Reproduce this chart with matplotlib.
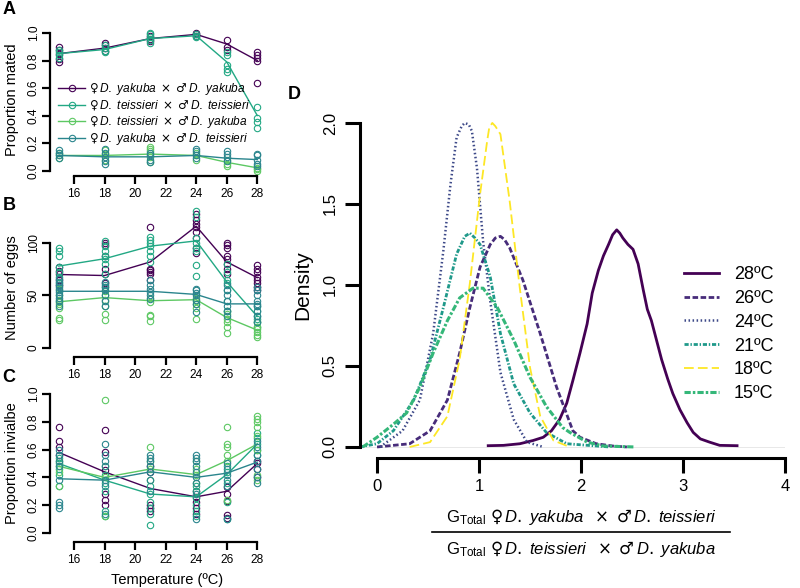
import matplotlib.pyplot as plt
from matplotlib.lines import Line2D

plt.rcParams['font.family'] = ['Liberation Sans', 'DejaVu Sans']
plt.rcParams['mathtext.fontset'] = 'custom'
plt.rcParams['mathtext.rm'] = 'DejaVu Sans'
plt.rcParams['mathtext.it'] = 'Liberation Sans:italic'
plt.rcParams['mathtext.sf'] = 'Liberation Sans'
plt.rcParams['lines.scale_dashes'] = False

# ---- data ----
temps = [15, 18, 21, 24, 26, 28]
cross_colors = ['#440154', '#22A884', '#5DC863', '#2A858D']
cross_labels = [
    r'$\mathrm{♀}\,\mathit{D.\ yakuba}\ \times\ \mathrm{♂}\,\mathit{D.\ yakuba}$',
    r'$\mathrm{♀}\,\mathit{D.\ teissieri}\ \times\ \mathrm{♂}\,\mathit{D.\ teissieri}$',
    r'$\mathrm{♀}\,\mathit{D.\ teissieri}\ \times\ \mathrm{♂}\,\mathit{D.\ yakuba}$',
    r'$\mathrm{♀}\,\mathit{D.\ yakuba}\ \times\ \mathrm{♂}\,\mathit{D.\ teissieri}$',
]

# A: proportion mated
mated_yy = [[0.79, 0.81, 0.85, 0.88, 0.90], [0.87, 0.89, 0.91, 0.93], [0.94, 0.96, 0.98],
            [0.98, 0.99, 1.00], [0.88, 0.90, 0.95], [0.64, 0.80, 0.82, 0.84, 0.86]]
mated_tt = [[0.82, 0.84, 0.86, 0.88], [0.86, 0.87, 0.89, 0.91], [0.93, 0.95, 0.97, 0.99, 1.00],
            [0.97, 0.98, 0.99], [0.72, 0.74, 0.77, 0.84, 0.86], [0.31, 0.35, 0.38, 0.46]]
mated_ty = [[0.09, 0.11, 0.13], [0.08, 0.12, 0.15], [0.06, 0.10, 0.14, 0.16, 0.17],
            [0.08, 0.11, 0.13], [0.03, 0.05, 0.08], [0.00, 0.01, 0.02]]
mated_yt = [[0.09, 0.11, 0.13, 0.15], [0.05, 0.07, 0.10, 0.13, 0.16], [0.06, 0.08, 0.11, 0.13],
            [0.09, 0.11, 0.14, 0.16], [0.07, 0.10, 0.12, 0.14], [0.03, 0.05, 0.08, 0.11, 0.12]]
mated_yy_mean = [0.85, 0.89, 0.96, 0.99, 0.92, 0.80]
mated_tt_mean = [0.85, 0.88, 0.96, 0.98, 0.79, 0.40]
mated_ty_mean = [0.11, 0.11, 0.12, 0.11, 0.06, 0.02]
mated_yt_mean = [0.11, 0.10, 0.10, 0.11, 0.09, 0.08]

# B: number of eggs
eggs_yy = [[60, 65, 70, 73, 77], [62, 70, 75, 88, 98, 100], [65, 70, 72, 74, 75, 115],
           [90, 95, 105, 110, 115, 118, 122, 128], [70, 75, 80, 85, 88, 95, 98, 100],
           [55, 58, 62, 65, 68, 72, 75, 79]]
eggs_tt = [[62, 68, 72, 77, 88, 92, 95], [70, 80, 85, 88, 92, 97, 102], [82, 88, 92, 97, 100, 103, 106],
           [69, 79, 92, 95, 100, 105, 125, 130], [35, 45, 55, 62, 65, 72, 80], [20, 25, 28, 30, 35, 40]]
eggs_ty = [[27, 29, 38, 42, 44, 46, 50, 56], [27, 32, 40, 46, 50, 54, 58], [26, 30, 31, 44, 48],
           [28, 38, 42, 45, 48], [14, 20, 25, 28, 32, 35], [10, 12, 15, 18, 20, 25]]
eggs_yt = [[40, 45, 48, 50, 53, 55, 58, 60, 63, 66], [40, 45, 50, 55, 58, 60, 63], [47, 50, 53, 56, 60, 65],
           [34, 42, 46, 50, 52, 55, 56], [30, 35, 40, 45, 50, 55, 60], [25, 30, 35, 40, 42, 45, 50, 55, 58]]
eggs_yy_mean = [70, 69, 82, 116, 82, 67]
eggs_tt_mean = [78, 85, 97, 102, 63, 30]
eggs_ty_mean = [44, 48, 45, 46, 29, 17]
eggs_yt_mean = [54, 54, 54, 51, 42, 42]

# C: proportion inviable
inv_yy = [[0.56, 0.62, 0.66, 0.76], [0.20, 0.24, 0.28, 0.45, 0.58, 0.74], [0.16, 0.18, 0.20, 0.44, 0.48],
          [0.14, 0.18, 0.22, 0.26, 0.30], [0.11, 0.13, 0.23, 0.28, 0.33], [0.40, 0.46, 0.50, 0.52]]
inv_tt = [[0.34, 0.42, 0.46, 0.50, 0.54], [0.12, 0.16, 0.30, 0.36, 0.42], [0.06, 0.14, 0.18, 0.22, 0.28, 0.34],
          [0.12, 0.16, 0.20, 0.25, 0.30, 0.34], [0.10, 0.22, 0.36, 0.44, 0.48], [0.56, 0.60, 0.64, 0.68, 0.72]]
inv_ty = [[0.34, 0.44, 0.48, 0.52], [0.12, 0.40, 0.48, 0.96], [0.38, 0.46, 0.52, 0.62],
          [0.36, 0.42, 0.46, 0.52], [0.24, 0.52, 0.56, 0.62, 0.64, 0.76],
          [0.38, 0.42, 0.60, 0.70, 0.76, 0.80, 0.82, 0.84]]
inv_yt = [[0.18, 0.20, 0.22, 0.38, 0.48, 0.52, 0.56, 0.60], [0.14, 0.34, 0.38, 0.48, 0.52, 0.56, 0.64],
          [0.30, 0.38, 0.44, 0.48, 0.52, 0.54, 0.56], [0.10, 0.28, 0.36, 0.40, 0.44, 0.48, 0.52, 0.54, 0.56],
          [0.10, 0.34, 0.38, 0.42, 0.46, 0.50], [0.36, 0.40, 0.46, 0.52, 0.56, 0.62, 0.66]]
inv_yy_mean = [0.58, 0.44, 0.32, 0.26, 0.30, 0.50]
inv_tt_mean = [0.50, 0.38, 0.28, 0.26, 0.42, 0.64]
inv_ty_mean = [0.48, 0.40, 0.46, 0.42, 0.52, 0.64]
inv_yt_mean = [0.39, 0.38, 0.44, 0.40, 0.43, 0.51]

# D: density of G ratio
d28_x = [1.09, 1.24, 1.40, 1.53, 1.63, 1.71, 1.79, 1.86, 1.92, 1.99, 2.06, 2.11, 2.17, 2.22, 2.27, 2.31,
         2.35, 2.38, 2.41, 2.46, 2.51, 2.56, 2.61, 2.65, 2.69, 2.74, 2.79, 2.85, 2.90, 2.97, 3.04, 3.10,
         3.17, 3.26, 3.36, 3.53]
d28_y = [0.008, 0.01, 0.02, 0.04, 0.06, 0.10, 0.17, 0.27, 0.41, 0.58, 0.76, 0.95, 1.09, 1.18, 1.25, 1.31,
         1.34, 1.32, 1.29, 1.25, 1.22, 1.13, 0.97, 0.85, 0.78, 0.66, 0.54, 0.42, 0.33, 0.23, 0.15, 0.09,
         0.05, 0.03, 0.01, 0.008]
d26_x = [0.00, 0.32, 0.52, 0.69, 0.81, 0.91, 1.01, 1.11, 1.16, 1.21, 1.25, 1.30, 1.43, 1.60, 1.76, 1.92,
         1.99, 2.15, 2.31, 2.45]
d26_y = [0.00, 0.02, 0.10, 0.29, 0.58, 0.86, 1.11, 1.25, 1.29, 1.30, 1.28, 1.23, 1.03, 0.70, 0.37, 0.10,
         0.06, 0.02, 0.006, 0.0]
d24_x = [0.03, 0.25, 0.42, 0.55, 0.65, 0.72, 0.78, 0.83, 0.86, 0.90, 0.93, 0.98, 1.04, 1.11, 1.21, 1.34,
         1.47, 1.63]
d24_y = [0.00, 0.10, 0.29, 0.70, 1.21, 1.62, 1.91, 1.98, 2.00, 1.99, 1.95, 1.72, 1.27, 0.90, 0.46, 0.17,
         0.03, 0.0]
d21_x = [-0.17, 0.00, 0.16, 0.36, 0.52, 0.65, 0.78, 0.86, 0.91, 0.96, 1.01, 1.11, 1.21, 1.34, 1.50, 1.66,
         1.86, 2.28]
d21_y = [0.00, 0.02, 0.10, 0.29, 0.54, 0.86, 1.19, 1.30, 1.32, 1.29, 1.25, 1.05, 0.70, 0.39, 0.21, 0.09,
         0.02, 0.0]
d18_x = [0.32, 0.52, 0.69, 0.81, 0.91, 1.01, 1.08, 1.10, 1.13, 1.16, 1.21, 1.30, 1.40, 1.50, 1.60, 1.73, 1.89]
d18_y = [0.00, 0.03, 0.19, 0.54, 1.01, 1.56, 1.89, 1.97, 2.00, 1.98, 1.93, 1.52, 0.98, 0.49, 0.19, 0.04, 0.0]
d15_x = [-0.14, 0.00, 0.16, 0.29, 0.42, 0.55, 0.69, 0.81, 0.94, 1.04, 1.18, 1.34, 1.50, 1.66, 1.82, 1.89,
         2.06, 2.22, 2.53]
d15_y = [0.00, 0.06, 0.14, 0.21, 0.37, 0.58, 0.78, 0.92, 0.98, 0.98, 0.86, 0.66, 0.43, 0.25, 0.12, 0.09,
         0.03, 0.006, 0.0]
dens_labels = ['28ºC', '26ºC', '24ºC', '21ºC', '18ºC', '15ºC']

W, H = 800, 588
fig = plt.figure(figsize=(8, 5.88), dpi=100)


def px_axes(left, top, right, bottom):
    return fig.add_axes([left / W, 1 - bottom / H, (right - left) / W, (bottom - top) / H])


def style_small(ax, ylo, yhi, yticks, ylabels):
    for s in ['top', 'right']:
        ax.spines[s].set_visible(False)
    ax.spines['left'].set_bounds(ylo, yhi)
    ax.spines['bottom'].set_bounds(16, 28)
    for s in ['left', 'bottom']:
        ax.spines[s].set_linewidth(1.6)
    ax.set_xlim(14.43, 28.57)
    ax.set_xticks([16, 18, 20, 22, 24, 26, 28])
    ax.set_yticks(yticks)
    ax.set_yticklabels(ylabels, rotation=90, va='center')
    ax.tick_params(length=5.5, width=1.6, labelsize=8.6)
    ax.tick_params(axis='x', pad=3)
    ax.tick_params(axis='y', pad=2)


def draw_panel(ax, pts_list, mean_list):
    for pts, means, c in zip(pts_list, mean_list, cross_colors):
        for t, vals in zip(temps, pts):
            ax.plot([t] * len(vals), vals, 'o', mfc='none', mec=c, ms=4.6, mew=0.8)
        ax.plot(temps, means, color=c, lw=1.0)


axA = px_axes(50, 27.5, 266, 176.5)
axA.set_ylim(-0.043, 1.04)
draw_panel(axA, [mated_yy, mated_tt, mated_ty, mated_yt],
           [mated_yy_mean, mated_tt_mean, mated_ty_mean, mated_yt_mean])
style_small(axA, 0, 1, [0, 0.2, 0.4, 0.6, 0.8, 1.0], ['0.0', '0.2', '0.4', '0.6', '0.8', '1.0'])
handles = [Line2D([], [], color=c, lw=1.0, marker='o', mfc='none', mec=c, ms=4.6, mew=0.8)
           for c in cross_colors]
axA.legend(handles, cross_labels, loc='upper left', bbox_to_anchor=(58 / W, 1 - 81 / H),
           bbox_transform=fig.transFigure, frameon=False, fontsize=8.6, handlelength=2.3,
           handletextpad=0.3, labelspacing=0.12, borderpad=0, borderaxespad=0)

axB = px_axes(50, 201, 266, 357)
axB.set_ylim(-8.6, 140)
draw_panel(axB, [eggs_yy, eggs_tt, eggs_ty, eggs_yt],
           [eggs_yy_mean, eggs_tt_mean, eggs_ty_mean, eggs_yt_mean])
style_small(axB, 0, 100, [0, 50, 100], ['0', '50', '100'])

axC = px_axes(50, 388, 266, 542)
axC.set_ylim(-0.065, 1.043)
draw_panel(axC, [inv_yy, inv_tt, inv_ty, inv_yt],
           [inv_yy_mean, inv_tt_mean, inv_ty_mean, inv_yt_mean])
style_small(axC, 0, 1, [0, 0.2, 0.4, 0.6, 0.8, 1.0], ['0.0', '0.2', '0.4', '0.6', '0.8', '1.0'])

fig.text(12 / W, 1 - 100 / H, 'Proportion mated', rotation=90, ha='center', va='center', fontsize=10.5)
fig.text(12 / W, 1 - 288 / H, 'Number of eggs', rotation=90, ha='center', va='center', fontsize=10.5)
fig.text(12 / W, 1 - 463 / H, 'Proportion invialbe', rotation=90, ha='center', va='center', fontsize=10.5)
fig.text(167 / W, 1 - 580 / H, 'Temperature (ºC)', ha='center', va='center', fontsize=10.5)
for lab, (x, y) in zip('ABC', [(9, 10), (9, 205), (9, 378)]):
    fig.text(x / W, 1 - y / H, lab, ha='center', va='center', fontsize=13, fontweight='bold')

# ---- panel D ----
axD = px_axes(360, 111.6, 785, 458)
axD.set_xlim(-0.167, 4.0)
axD.set_ylim(-0.068, 2.07)
axD.axhline(0, color='#e8e8e8', lw=0.7, zorder=0)
dens_x = [d28_x, d26_x, d24_x, d21_x, d18_x, d15_x]
dens_y = [d28_y, d26_y, d24_y, d21_y, d18_y, d15_y]
dens_colors = ['#440154', '#472C7A', '#3E4A89', '#1F998A', '#FDE725', '#35B779']
dens_lw = [2.0, 2.0, 1.8, 2.0, 1.3, 2.2]
dens_dash = [None, (4, 1.8), (1.1, 1.8), (3, 1.3, 1.0, 1.3), (7, 3), (4.5, 1.5, 1.8, 1.5)]
lines = []
for xs, ys, c, lw, dsh, lab in zip(dens_x, dens_y, dens_colors, dens_lw, dens_dash, dens_labels):
    if dsh is None:
        ln, = axD.plot(xs, ys, color=c, lw=lw, label=lab)
    else:
        ln, = axD.plot(xs, ys, color=c, lw=lw, dashes=dsh, label=lab)
    lines.append(ln)
for s in ['top', 'right']:
    axD.spines[s].set_visible(False)
axD.spines['left'].set_bounds(0, 2)
axD.spines['bottom'].set_bounds(0, 4)
for s in ['left', 'bottom']:
    axD.spines[s].set_linewidth(2.2)
axD.set_xticks([0, 1, 2, 3, 4])
axD.set_yticks([0, 0.5, 1.0, 1.5, 2.0])
axD.set_yticklabels(['0.0', '0.5', '1.0', '1.5', '2.0'], rotation=90, va='center')
axD.tick_params(length=11, width=2.2, labelsize=12)
axD.tick_params(axis='x', pad=4)
axD.tick_params(axis='y', pad=5)
axD.legend(handles=lines, loc='upper left', bbox_to_anchor=(684 / W, 1 - 266 / H),
           bbox_transform=fig.transFigure, frameon=False, fontsize=13, handlelength=1.95,
           handletextpad=0.8, labelspacing=0.38, borderpad=0, borderaxespad=0)
fig.text(303 / W, 1 - 285 / H, 'Density', rotation=90, ha='center', va='center', fontsize=15)
fig.text(294 / W, 1 - 94 / H, 'D', ha='center', va='center', fontsize=13, fontweight='bold')

num = r'$\mathsf{G}_{\mathsf{Total}}\ \mathrm{♀}\,\mathit{D.\ yakuba}\ \ \times\ \mathrm{♂}\,\mathit{D.\ teissieri}$'
den = r'$\mathsf{G}_{\mathsf{Total}}\ \mathrm{♀}\,\mathit{D.\ teissieri}\ \ \times\ \mathrm{♂}\,\mathit{D.\ yakuba}$'
fig.text(581 / W, 1 - 517 / H, num, ha='center', va='center', fontsize=12)
fig.text(581 / W, 1 - 549 / H, den, ha='center', va='center', fontsize=12)
fig.add_artist(Line2D([432 / W, 730 / W], [1 - 532 / H, 1 - 532 / H], color='black', lw=1.2))

fig.savefig('out.png', dpi=100)
